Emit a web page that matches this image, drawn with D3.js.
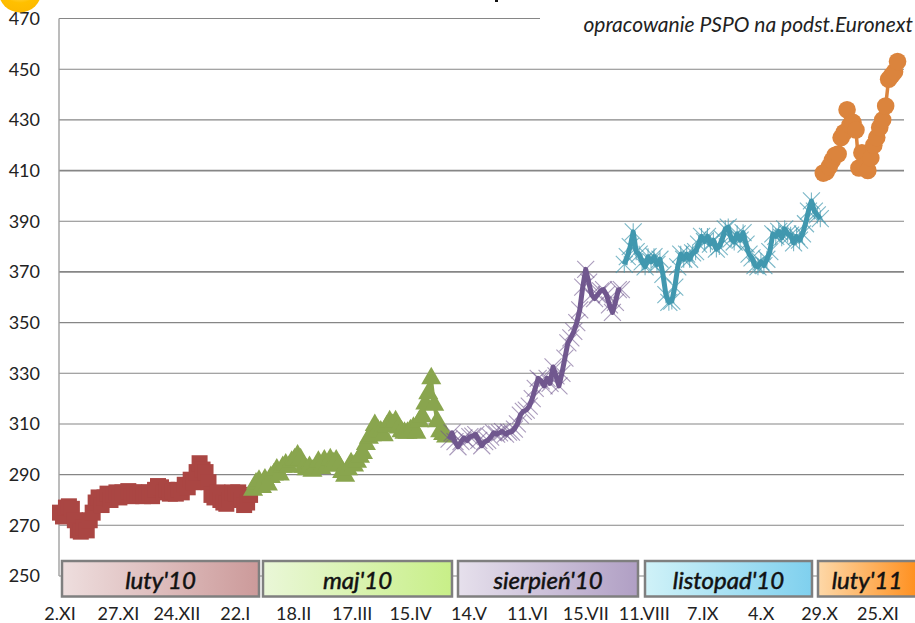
<!DOCTYPE html>
<html><head><meta charset="utf-8">
<script src="https://cdn.jsdelivr.net/npm/d3@7"></script>
<style>html,body{margin:0;padding:0;background:#fff}svg{display:block}text{font-family:Lato,sans-serif}</style>
</head><body><div id="chart"></div>
<script>
const yTicks=[250,270,290,310,330,350,370,390,410,430,450,470];
const xLabels=["2.XI","27.XI","24.XII","22.I","18.II","17.III","15.IV","14.V","11.VI","15.VII","11.VIII","7.IX","4.X","29.X","25.XI"];
const quarters=["luty'10","maj'10","sierpień'10","listopad'10","luty'11"];
const sourceNote="opracowanie PSPO na podst.Euronext";
const redValues=[275,273.5,277,277.5,276.5,272,268,267.5,269,268,272,275,279,281,278,281,282.5,280,282,283,281,283,282,283.5,281.5,283,282,283,281.5,282,283,281.5,284,285.5,285,283,284,282.5,283.5,282.5,284,283,286,285,288,287,291,294.5,292,291,287,282,281,283,280,279,278.5,280,283,282.5,283,280,278,279,282];
const greenValues=[284,286.5,287.5,285,288,286,289,290,292,290,293,294,293,295,296,297.5,296,293,292,293,291.5,292.5,295,292.5,295.5,293.5,296,294.5,295.5,293.5,291,289.5,292,294.5,293.5,295,297,298.5,302,304.5,305.5,309.5,307.5,307,305.5,309,311,309.5,311,308.5,307,306.5,306.5,307.5,308.5,306.5,311,313,318,322,328,317.5,311,307,306,305];
const purpleValues=[304,306.5,303,301,303,304.5,303.5,305,305.2,305.8,303.5,301.4,303,303.5,304.8,306.5,306,306.5,307,306,306.8,306.8,308,310,313.5,315,315.5,317,320,324,328,327,325,328,326,332.5,329,325,330,336,342,344,346.5,350,355,364,371,366,361,359.5,361,362.5,363,361,357,354,358,363,363];
const tealValues=[373,376,380,385.8,378,377,374,372,376,374,376,373,375,369,361,358,358.5,364,372,377,375,377,375,377.5,378,381,384,382,384,381,382.5,379,380,383,387,387.7,383,381.8,385,382.5,385.5,381,377,375.5,372.5,372,374,372.5,375,378,385,384,386,383.5,387,385,384.5,381.5,384,382.5,385,389,394,398,394,392.5,391];
const orangeValues=[409,409.5,411.5,414,416,416.5,423,425,434,428,429,426,411,417,412,410,415,420,423,427,430,435.5,446,447.5,449,453];

const W=915,H=623;
const svg=d3.select("#chart").append("svg").attr("width",W).attr("height",H);
const y=d3.scaleLinear().domain([250,470]).range([576,18.5]);
const totalPoints=redValues.length+greenValues.length+purpleValues.length+tealValues.length+orangeValues.length;
const x=d3.scaleLinear().domain([0,totalPoints-1]).range([60,60+2.97*(totalPoints-1)]);
const xAxisScale=d3.scalePoint().domain(xLabels).range([60,878]);

// gridlines
const grid=svg.append("g");
grid.selectAll("line").data(yTicks).join("line")
 .attr("x1",59).attr("x2",904).attr("y1",d=>y(d)).attr("y2",d=>y(d))
 .attr("stroke","#868686").attr("stroke-width",d=>(d===410||d===370)?1.8:1.1);
svg.append("line").attr("x1",59).attr("x2",59).attr("y1",y(470)).attr("y2",y(250)).attr("stroke","#a0a0a0").attr("stroke-width",1.4);

// speck left by the cropped title, then the white note box covering the top right
svg.append("rect").attr("x",495).attr("y",0).attr("width",3).attr("height",2).attr("fill","#111");
svg.append("rect").attr("x",540).attr("y",0).attr("width",375).attr("height",40).attr("fill","#fff");

// y labels
svg.append("g").selectAll("text").data(yTicks).join("text")
 .attr("x",40).attr("y",d=>y(d)).attr("dy","0.36em").attr("text-anchor","end")
 .attr("font-size",18).attr("fill","#222").text(d=>d);
// x labels
svg.append("g").selectAll("text").data(xLabels).join("text")
 .attr("x",d=>xAxisScale(d)).attr("y",620).attr("text-anchor","middle")
 .attr("font-size",18).attr("fill","#222").text(d=>d);

// series
const colors=["#AA4643","#89A54E","#71588F","#4198AF","#DB843D"];
const seriesList=[redValues,greenValues,purpleValues,tealValues,orangeValues];
const timesPath=r=>`M${-r},${-r}L${r},${r}M${-r},${r}L${r},${-r}`;
const starPath=r=>timesPath(r)+`M0,${-r}L0,${r}`;
let offset=0;
const line=d3.line().x(d=>x(d.i)).y(d=>y(d.v));
seriesList.forEach((vals,s)=>{
  const pts=vals.map((v,k)=>({v,i:offset+k}));
  offset+=vals.length;
  const g=svg.append("g");
  const col=colors[s];
  g.append("path").datum(pts).attr("d",line).attr("fill","none").attr("stroke",col)
   .attr("stroke-width",s===2||s===3?5:3.5).attr("stroke-linejoin","round");
  const m=g.selectAll("path.m").data(pts).join("path").attr("class","m")
   .attr("transform",d=>`translate(${x(d.i)},${y(d.v)})`);
  if(s===0) m.attr("d",d3.symbol(d3.symbolSquare,16*16)()).attr("fill",col);
  if(s===1) m.attr("d",d3.symbol(d3.symbolTriangle,175)()).attr("fill",col);
  if(s===2) m.attr("d",timesPath(8.5)).attr("fill","none").attr("stroke",col).attr("stroke-width",1.1).attr("stroke-opacity",.6);
  if(s===3) m.attr("d",starPath(8.5)).attr("fill","none").attr("stroke",col).attr("stroke-width",1.1).attr("stroke-opacity",.7);
  if(s===4) m.attr("d",d3.symbol(d3.symbolCircle,Math.PI*8.8*8.8)()).attr("fill",col);
});

// quarter boxes
const boxX=[[62,259],[263,452],[458,638],[645,812],[818,914]];
const boxColors=[["#eedede","#cc9a9a"],["#eaf7d8","#c8ef88"],["#e6e0ec","#b09fc4"],["#d0f2f8","#7fd0ee"],["#fdd8a8","#ff8a14"]];
const defs=svg.append("defs");
quarters.forEach((q,i)=>{
  const gr=defs.append("linearGradient").attr("id","g"+i);
  gr.append("stop").attr("offset","0").attr("stop-color",boxColors[i][0]);
  gr.append("stop").attr("offset","1").attr("stop-color",boxColors[i][1]);
  svg.append("rect").attr("x",boxX[i][0]).attr("y",561).attr("width",boxX[i][1]-boxX[i][0]+(i===4?11:0)).attr("height",35.5)
   .attr("fill",`url(#g${i})`).attr("stroke","#7f7f7f").attr("stroke-width",2.5);
  svg.append("text").attr("x",i==4?867:(boxX[i][0]+boxX[i][1])/2).attr("y",589).attr("text-anchor","middle")
   .attr("font-size",24).attr("font-style","italic").attr("fill","#111").attr("stroke","#111").attr("stroke-width",0.5).text(q);
});

// note
svg.append("text").attr("x",913).attr("y",32).attr("text-anchor","end").attr("font-size",21).attr("font-style","italic").attr("fill","#222").text(sourceNote);

// decoration
const bg=defs.append("radialGradient").attr("id","sun").attr("cx","0.5").attr("cy","0.25").attr("r","0.75");
bg.append("stop").attr("offset","0.35").attr("stop-color","#ffe680");
bg.append("stop").attr("offset","0.7").attr("stop-color","#ffc000");
bg.append("stop").attr("offset","1").attr("stop-color","#fdb900");
svg.append("circle").attr("cx",20).attr("cy",-9).attr("r",21.5).attr("fill","url(#sun)");
</script></body></html>
